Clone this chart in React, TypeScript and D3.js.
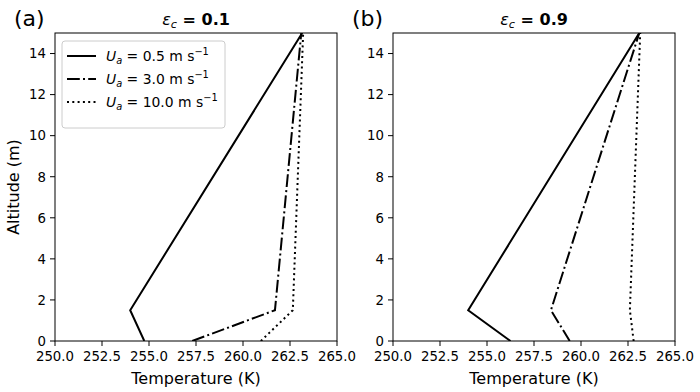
import React from "react";
import * as d3 from "d3";

const altitudes = [0, 1.5, 15];
const seriesLabels = ["0.5", "3.0", "10.0"];
const panelA_solid = [254.75, 254.0, 263.15];
const panelA_dashdot = [257.3, 261.7, 263.1];
const panelA_dotted = [260.95, 262.65, 263.2];
const panelB_solid = [256.25, 254.0, 263.1];
const panelB_dashdot = [259.4, 258.4, 263.1];
const panelB_dotted = [262.8, 262.6, 263.15];
const xTicks = [250, 252.5, 255, 257.5, 260, 262.5, 265];
const yTicks = [0, 2, 4, 6, 8, 10, 12, 14];
const panelTitles = ["0.1", "0.9"];
const panelLetters = ["(a)", "(b)"];

const dashes = ["none", "12.8,3.2,2,3.2", "2,3.3"];
const FONT = "DejaVu Sans";

function Panel({ x0, series, title, letter, legend }: any) {
  const w = 282;
  const top = 33;
  const bottom = 341;
  const x = d3.scaleLinear().domain([250, 265]).range([x0, x0 + w]);
  const y = d3.scaleLinear().domain([0, 15]).range([bottom, top]);
  const line = d3
    .line<[number, number]>()
    .x((d) => x(d[0]))
    .y((d) => y(d[1]));
  return (
    <g>
      <defs>
        <clipPath id={"clip" + x0}>
          <rect x={x0} y={top} width={w} height={bottom - top} />
        </clipPath>
      </defs>
      <g clipPath={`url(#clip${x0})`}>
        {series.map((s: number[], i: number) => (
          <path
            key={i}
            d={line(s.map((t, j) => [t, altitudes[j]]) as any) || ""}
            fill="none"
            stroke="black"
            strokeWidth={2}
            strokeDasharray={dashes[i]}
          />
        ))}
      </g>
      <rect x={x0} y={top} width={w} height={bottom - top} fill="none" stroke="black" strokeWidth={1} />
      {xTicks.map((t) => (
        <g key={t}>
          <line x1={x(t)} x2={x(t)} y1={bottom} y2={bottom + 5} stroke="black" />
          <text x={x(t)} y={bottom + 19.5} textAnchor="middle" fontSize={13.3} fontFamily={FONT}>
            {t.toFixed(1)}
          </text>
        </g>
      ))}
      {yTicks.map((t) => (
        <g key={t}>
          <line x1={x0 - 5} x2={x0} y1={y(t)} y2={y(t)} stroke="black" />
          <text x={x0 - 9} y={y(t) + 4.8} textAnchor="end" fontSize={13.3} fontFamily={FONT}>
            {t}
          </text>
        </g>
      ))}
      <text x={x0 + w / 2} y={384} textAnchor="middle" fontSize={16} fontFamily={FONT}>
        Temperature (K)
      </text>
      <text x={x0 + w / 2} y={25} textAnchor="middle" fontSize={16} fontFamily={FONT}>
        <tspan fontStyle="italic">ε</tspan>
        <tspan fontStyle="italic" fontSize={11.2} dy={3}>c</tspan>
        <tspan dy={-3} fontWeight="bold"> = {title}</tspan>
      </text>
      <text x={x0 - 41} y={26} fontSize={22} fontFamily={FONT}>
        {letter}
      </text>
      {legend && (
        <g>
          <rect x={62} y={41} width={163} height={87} rx={3} fill="white" fillOpacity={0.8} stroke="#cccccc" />
          {seriesLabels.map((lab, i) => {
            const yy = 56 + i * 23;
            return (
              <g key={lab}>
                <line x1={67} x2={96} y1={yy} y2={yy} stroke="black" strokeWidth={2} strokeDasharray={dashes[i]} />
                <text x={106} y={yy + 5} fontSize={13.9} fontFamily={FONT}>
                  <tspan fontStyle="italic">U</tspan>
                  <tspan fontStyle="italic" fontSize={9.8} dy={3}>a</tspan>
                  <tspan dy={-3}> = {lab} m s</tspan>
                  <tspan fontSize={9.8} dy={-6}>−1</tspan>
                </text>
              </g>
            );
          })}
        </g>
      )}
    </g>
  );
}

export default function App() {
  return (
    <svg width={700} height={392} style={{ position: "absolute", left: 0, top: 0, background: "white" }}>
      <rect width={700} height={392} fill="white" />
      <text transform="translate(19,187) rotate(-90)" textAnchor="middle" fontSize={16} fontFamily={FONT}>
        Altitude (m)
      </text>
      <Panel x0={55} series={[panelA_solid, panelA_dashdot, panelA_dotted]} title={panelTitles[0]} letter={panelLetters[0]} legend />
      <Panel x0={393} series={[panelB_solid, panelB_dashdot, panelB_dotted]} title={panelTitles[1]} letter={panelLetters[1]} legend={false} />
    </svg>
  );
}
